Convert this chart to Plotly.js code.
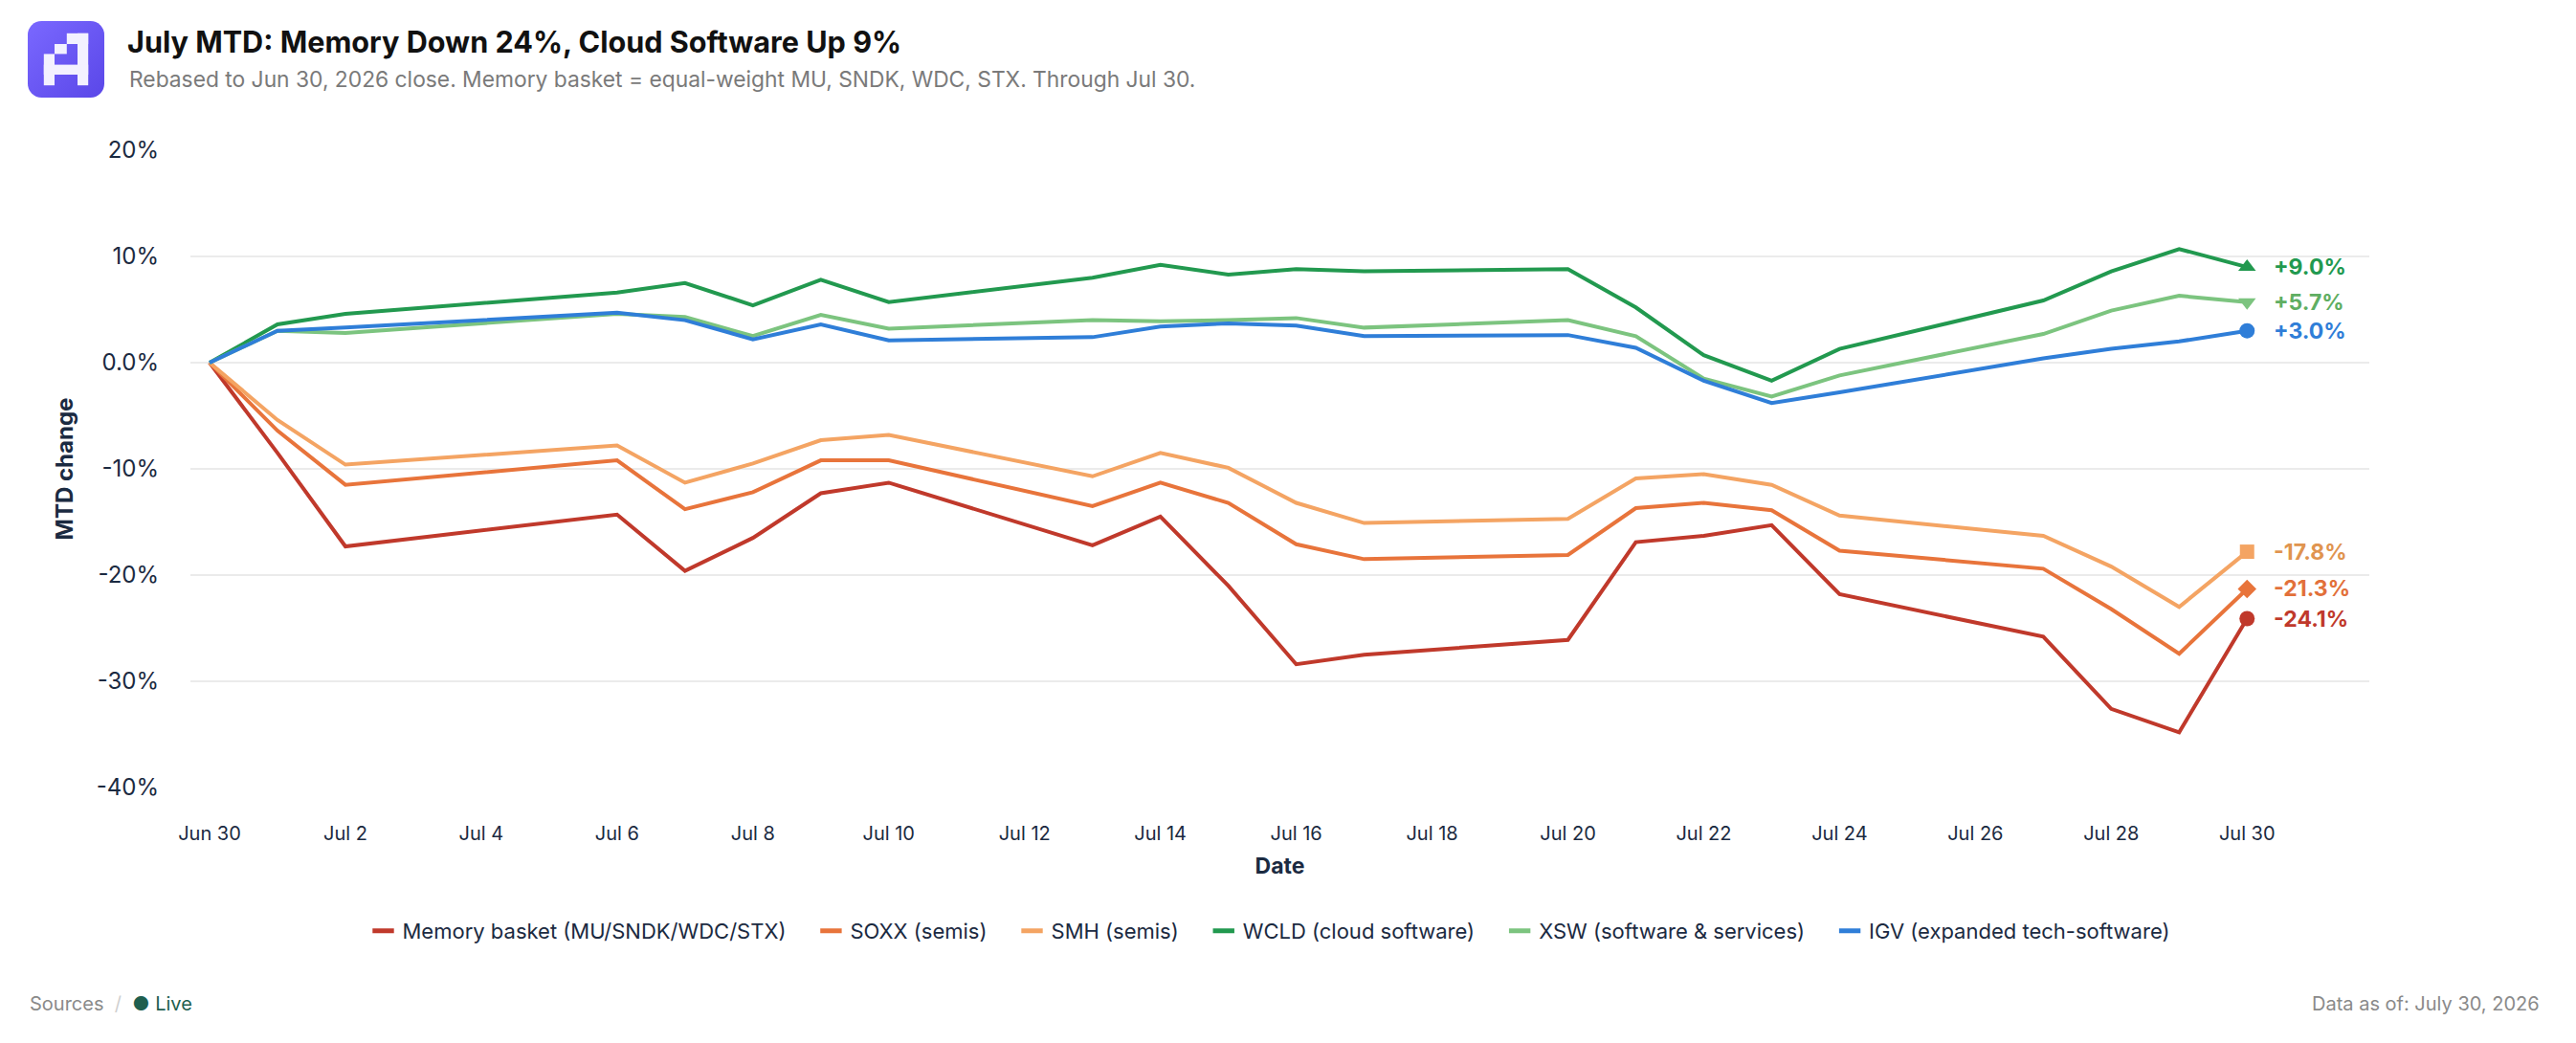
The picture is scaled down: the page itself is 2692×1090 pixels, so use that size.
<!DOCTYPE html>
<html>
<head>
<meta charset="utf-8">
<script src="https://cdn.plot.ly/plotly-3.0.1.min.js"></script>
<style>
  html, body { margin: 0; padding: 0; background: #ffffff; }
  #chart { width: 2692px; height: 1090px; }
</style>
</head>
<body>
<div id="chart"></div>
<script>
// ---------------- DATA ----------------
var dates = ['2026-06-30','2026-07-01','2026-07-02','2026-07-06','2026-07-07','2026-07-08','2026-07-09','2026-07-10',
             '2026-07-13','2026-07-14','2026-07-15','2026-07-16','2026-07-17','2026-07-20','2026-07-21','2026-07-22',
             '2026-07-23','2026-07-24','2026-07-27','2026-07-28','2026-07-29','2026-07-30'];

var memory = [0, -8.5, -17.3, -14.3, -19.6, -16.5, -12.3, -11.3, -17.2, -14.5, -21.0, -28.4, -27.5, -26.1, -16.9, -16.3, -15.3, -21.8, -25.8, -32.6, -34.8, -24.1];
var soxx   = [0, -6.4, -11.5, -9.2, -13.8, -12.2, -9.2, -9.2, -13.5, -11.3, -13.2, -17.1, -18.5, -18.1, -13.7, -13.2, -13.9, -17.7, -19.4, -23.2, -27.4, -21.3];
var smh    = [0, -5.4, -9.6, -7.8, -11.3, -9.5, -7.3, -6.8, -10.7, -8.5, -9.9, -13.2, -15.1, -14.7, -10.9, -10.5, -11.5, -14.4, -16.3, -19.2, -23.0, -17.8];
var wcld   = [0, 3.6, 4.6, 6.6, 7.5, 5.4, 7.8, 5.7, 8.0, 9.2, 8.3, 8.8, 8.6, 8.8, 5.2, 0.7, -1.7, 1.3, 5.85, 8.6, 10.7, 9.0];
var xsw    = [0, 3.0, 2.8, 4.6, 4.3, 2.5, 4.5, 3.2, 4.0, 3.9, 4.0, 4.2, 3.3, 4.0, 2.5, -1.5, -3.2, -1.2, 2.7, 4.9, 6.3, 5.7];
var igv    = [0, 3.0, 3.3, 4.7, 4.0, 2.2, 3.6, 2.1, 2.4, 3.4, 3.7, 3.5, 2.5, 2.6, 1.4, -1.7, -3.8, -2.8, 0.4, 1.3, 2.0, 3.0];

var seriesNames = ['Memory basket (MU/SNDK/WDC/STX)', 'SOXX (semis)', 'SMH (semis)', 'WCLD (cloud software)', 'XSW (software & services)', 'IGV (expanded tech-software)'];

var yTickVals = [-40, -30, -20, -10, 0, 10, 20];
var yTickText = ['-40%', '-30%', '-20%', '-10%', '0.0%', '10%', '20%'];

// ---------------- STYLE ----------------
var seriesValues = [memory, soxx, smh, wcld, xsw, igv];
var lineColors  = ['#c0392b', '#e8743b', '#f4a463', '#22994f', '#7cc47f', '#2f7ed8'];
var labelColors = ['#c0392b', '#e2703a', '#e0944f', '#22994f', '#5fae62', '#2f7ed8'];
var endSymbols  = ['circle', 'diamond', 'square', 'triangle-up', 'triangle-down', 'circle'];
var endSizes    = [16, 15, 15, 16, 16, 16];

var FONT = 'Inter, "Noto Sans", sans-serif';
var INK = '#1b2a41';

// plot box in pixels
var L = 199, R = 2476, T = 157, B = 823;
var W = R - L, H = B - T;
function fx(px) { return (px - L) / W; }
function fy(py) { return (B - py) / H; }

var traces = [];
var annotations = [];
var lastIdx = dates.length - 1;

seriesValues.forEach(function (vals, i) {
  traces.push({
    type: 'scatter', mode: 'lines', x: dates, y: vals, name: seriesNames[i],
    line: { color: lineColors[i], width: 4 },
    showlegend: false, hoverinfo: 'x+y+name'
  });
  traces.push({
    type: 'scatter', mode: 'markers', x: [dates[lastIdx]], y: [vals[lastIdx]],
    marker: { symbol: endSymbols[i], size: endSizes[i], color: lineColors[i] },
    showlegend: false, hoverinfo: 'skip'
  });
  var v = vals[lastIdx];
  annotations.push({
    x: dates[lastIdx], y: v, xref: 'x', yref: 'y',
    text: '<b>' + (v > 0 ? '+' : '') + v.toFixed(1) + '%</b>',
    showarrow: false, xanchor: 'left', yanchor: 'middle', xshift: 26,
    font: { family: FONT, size: 23, color: labelColors[i] }
  });
});

// legend-only entries (short thick line symbol)
seriesNames.forEach(function (nm, i) {
  traces.push({
    type: 'scatter', mode: 'markers', x: [null], y: [null], name: nm + '\u2003',
    marker: { symbol: 'line-ew-open', size: 16, color: lineColors[i], line: { color: lineColors[i], width: 5 } },
    showlegend: true, hoverinfo: 'skip'
  });
});

// subtitle
annotations.push({
  xref: 'paper', yref: 'paper', x: fx(133), y: fy(83), xanchor: 'left', yanchor: 'middle',
  text: 'Rebased to Jun 30, 2026 close. Memory basket = equal-weight MU, SNDK, WDC, STX. Through Jul 30.',
  showarrow: false, font: { family: FONT, size: 22.8, color: '#7a7a7a' }
});
// footer
annotations.push({
  xref: 'paper', yref: 'paper', x: fx(29), y: fy(1049), xanchor: 'left', yanchor: 'middle',
  text: 'Sources <span style="color:#cfcfcf">&nbsp;/&nbsp;</span> <span style="color:#1f5f4f">\u25CF</span> <span style="color:#1f5f4f">Live</span>',
  showarrow: false, font: { family: FONT, size: 20, color: '#8a8a8a' }
});
annotations.push({
  xref: 'paper', yref: 'paper', x: fx(2656), y: fy(1049), xanchor: 'right', yanchor: 'middle',
  text: 'Data as of: July 30, 2026',
  showarrow: false, font: { family: FONT, size: 20, color: '#8a8a8a' }
});

var logoSvg = "<svg xmlns='http://www.w3.org/2000/svg' width='100' height='100' viewBox='0 0 100 100'>" +
  "<defs><linearGradient id='g' x1='0' y1='0' x2='1' y2='1'><stop offset='0' stop-color='#7a68ff'/><stop offset='1' stop-color='#5a47e8'/></linearGradient></defs>" +
  "<rect width='100' height='100' rx='18' fill='url(#g)'/>" +
  "<g fill='#f3f1ff'><rect x='51' y='16' width='28' height='14'/><rect x='65' y='16' width='14' height='68'/>" +
  "<rect x='35' y='30' width='16' height='13'/><rect x='21' y='43' width='14' height='41'/><rect x='21' y='57' width='58' height='13'/></g></svg>";

var layout = {
  width: 2692, height: 1090,
  paper_bgcolor: '#ffffff', plot_bgcolor: '#ffffff',
  margin: { l: L, r: 2692 - R, t: T, b: 1090 - B, pad: 0 },
  font: { family: FONT, color: INK },
  title: {
    text: '<b>July MTD: Memory Down 24%, Cloud Software Up 9%</b>',
    x: 133 / 2692, xref: 'container', xanchor: 'left',
    y: 1 - 44 / 1090, yref: 'container', yanchor: 'middle',
    font: { family: FONT, size: 30.6, color: '#111111' }
  },
  xaxis: {
    type: 'date',
    range: ['2026-06-29 17:14', '2026-07-31 19:12'],
    tick0: '2026-06-30', dtick: 2 * 86400000, tickformat: '%b %-d',
    showgrid: false, zeroline: false, showline: false, ticks: '',
    ticklabelstandoff: 34,
    tickfont: { family: FONT, size: 20, color: INK },
    title: { text: '<b>Date</b>', standoff: 14, font: { family: FONT, size: 23, color: INK } },
    automargin: false
  },
  yaxis: {
    range: [-40, 20],
    tickvals: yTickVals, ticktext: yTickText,
    showgrid: true, gridcolor: '#ebebeb', gridwidth: 2,
    zeroline: false, showline: false, ticks: '',
    ticklabelstandoff: 32,
    tickfont: { family: FONT, size: 24, color: INK },
    title: { text: '<b>MTD change</b>', standoff: 17, font: { family: FONT, size: 24, color: INK } },
    automargin: false
  },
  legend: {
    orientation: 'h', x: 0.5, xanchor: 'center', xref: 'paper',
    y: fy(973), yanchor: 'middle',
    font: { family: FONT, size: 22, color: INK },
    itemclick: false, itemdoubleclick: false
  },
  annotations: annotations,
  images: [{
    source: 'data:image/svg+xml;charset=utf-8,' + encodeURIComponent(logoSvg),
    xref: 'paper', yref: 'paper', x: fx(29), y: fy(22),
    sizex: 80 / W, sizey: 80 / H, xanchor: 'left', yanchor: 'top', sizing: 'stretch', layer: 'above'
  }],
  showlegend: true,
  hovermode: 'closest'
};

Plotly.newPlot('chart', traces, layout, { displayModeBar: false, responsive: false, staticPlot: false });
</script>
</body>
</html>
